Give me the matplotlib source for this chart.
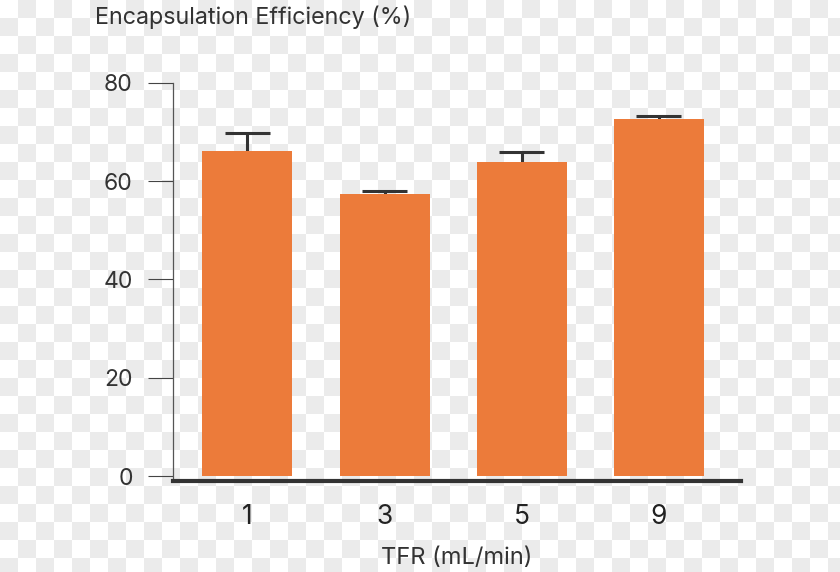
import numpy as np
import matplotlib
matplotlib.use("Agg")
import matplotlib.pyplot as plt
from matplotlib.colors import ListedColormap

categories = ["1", "3", "5", "9"]
values = [66.2, 57.4, 63.9, 72.6]
errors = [3.6, 0.6, 2.0, 0.7]
yticks = [0, 20, 40, 60, 80]

W, H = 840, 572
plt.rcParams['font.family'] = ['Inter', 'DejaVu Sans']
fig = plt.figure(figsize=(W / 100, H / 100), dpi=100)

# checkerboard background
bg = fig.add_axes([0, 0, 1, 1], zorder=-10)
sq = 18
ny, nx = int(np.ceil(H / sq)), int(np.ceil(W / sq))
jj, ii = np.mgrid[0:ny, 0:nx]
board = ((ii + jj) % 2).astype(float)
bg.imshow(board, cmap=ListedColormap(["#ffffff", "#ebebeb"]), interpolation="nearest",
          extent=[0, nx * sq, ny * sq, 0], aspect="auto")
bg.set_xlim(0, W)
bg.set_ylim(H, 0)
bg.axis("off")

ax = fig.add_axes([173 / W, 1 - 480.5 / H, (741 - 173) / W, (480.5 - 82.7) / H])
ax.patch.set_alpha(0)
x = np.arange(len(categories))
vals = np.array(values)
errs = np.array(errors)
ax.bar(x, vals, width=0.656, color="#EC7B3A", zorder=2)
ax.vlines(x, vals, vals + errs, color="#333333", linewidth=2.2, zorder=1)
ax.hlines(vals + errs, x - 0.164, x + 0.164, color="#333333", linewidth=2.2, zorder=3)

ax.set_xlim(-0.5415, 3.598)
ax.set_ylim(-0.9, 80)
ax.set_yticks(yticks)
ax.set_xticks(x)
ax.set_xticklabels(categories)
for s in ["top", "right"]:
    ax.spines[s].set_visible(False)
ax.spines["left"].set_color("#555555")
ax.spines["left"].set_linewidth(0.9)
ax.spines["bottom"].set_color("#333333")
ax.spines["bottom"].set_linewidth(3.0)
ax.tick_params(axis="y", length=18, width=0.8, color="#444444", pad=11,
               labelsize=16.5, labelcolor="#333333")
ax.tick_params(axis="x", length=0, pad=17, labelsize=19, labelcolor="#222222")
ax.set_xlabel("TFR (mL/min)", fontsize=17, color="#333333", labelpad=12)

fig.text(95 / W, 1 - 17 / H, "Encapsulation Efficiency (%)", fontsize=16.8,
         color="#333333", ha="left", va="center")

fig.savefig("out.png", dpi=100)
